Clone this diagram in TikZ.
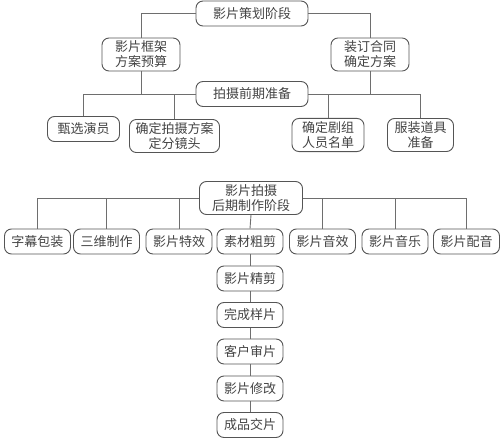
\documentclass[tikz,border=0pt]{standalone}
\usepackage{fontspec}
\setmainfont{Noto Sans CJK SC}
\usetikzlibrary{positioning}

\definecolor{boxline}{HTML}{555555}
\definecolor{boxtext}{HTML}{444444}
\definecolor{wire}{HTML}{6E6E6E}

\begin{document}
\begin{tikzpicture}[
    x=1pt, y=-1pt,
    box/.style={rectangle, draw=boxline, text=boxtext, fill=white,
                rounded corners=7pt, line width=0.9pt,
                align=center, minimum height=25pt,
                inner xsep=6pt, inner ysep=3pt,
                font=\fontsize{13}{15}\selectfont},
    line/.style={draw=wire, line width=0.9pt},
]
\useasboundingbox (0,0) rectangle (501,439);

% --- 策划阶段 ---
\node (plan) [box, minimum width=112pt] at (252, 13.5) {影片策划阶段};
\node (frame) [box, minimum width=78pt] at (141, 54.5) {影片框架\\方案预算};
\node (contract) [box, minimum width=78pt] at (370, 54.5) {装订合同\\确定方案};

% --- 前期准备 ---
\node (prep) [box, minimum width=112pt] at (252, 94) {拍摄前期准备};
\node (cast) [box, minimum width=72pt] at (83.5, 129) {甄选演员};
\node (shoot) [box, minimum width=88pt] at (174.5, 136) {确定拍摄方案\\定分镜头};
\node (crew) [box, minimum width=72pt] at (328, 135) {确定剧组\\人员名单};
\node (costume) [box, minimum width=66pt] at (420.5, 135) {服装道具\\准备};

\draw [line] (plan.west) -| (frame.north);
\draw [line] (plan.east) -| (contract.north);
\draw [line] (frame.south) -- (frame.south |- prep.west);
\draw [line] (contract.south) -- (contract.south |- prep.east);
\draw [line] (prep.west) -| (cast.north);
\draw [line] (prep.west) -| (shoot.north);
\draw [line] (prep.east) -| (crew.north);
\draw [line] (prep.east) -| (costume.north);

% --- 拍摄 / 后期 ---
\node (post) [box, minimum width=103pt] at (251, 198) {影片拍摄\\后期制作阶段};
\node (subtitle) [box, minimum width=66pt] at (37.5, 241.5) {字幕包装};
\node (threed) [box, minimum width=66pt] at (106.5, 241.5) {三维制作};
\node (effect) [box, minimum width=66pt] at (179, 241.5) {影片特效};
\node (rough) [box, minimum width=66pt] at (250, 241.5) {素材粗剪};
\node (sound) [box, minimum width=66pt] at (322.5, 241.5) {影片音效};
\node (music) [box, minimum width=66pt] at (395, 241.5) {影片音乐};
\node (dub) [box, minimum width=66pt] at (466.5, 241.5) {影片配音};

\draw [line] (post.west) -| (subtitle.north);
\draw [line] (post.west) -| (threed.north);
\draw [line] (post.west) -| (effect.north);
\draw [line] (post.east) -| (sound.north);
\draw [line] (post.east) -| (music.north);
\draw [line] (post.east) -| (dub.north);
\draw [line] (post.south) -- (rough.north);

% --- 剪辑到交片 ---
\node (fine) [box, minimum width=66pt] at (250, 278.5) {影片精剪};
\node (sample) [box, minimum width=66pt] at (250, 315) {完成样片};
\node (review) [box, minimum width=66pt] at (250, 351.5) {客户审片};
\node (revise) [box, minimum width=66pt] at (250, 388.5) {影片修改};
\node (deliver) [box, minimum width=66pt] at (250, 425) {成品交片};

\draw [line] (rough) -- (fine);
\draw [line] (fine) -- (sample);
\draw [line] (sample) -- (review);
\draw [line] (review) -- (revise);
\draw [line] (revise) -- (deliver);

\end{tikzpicture}
\end{document}
